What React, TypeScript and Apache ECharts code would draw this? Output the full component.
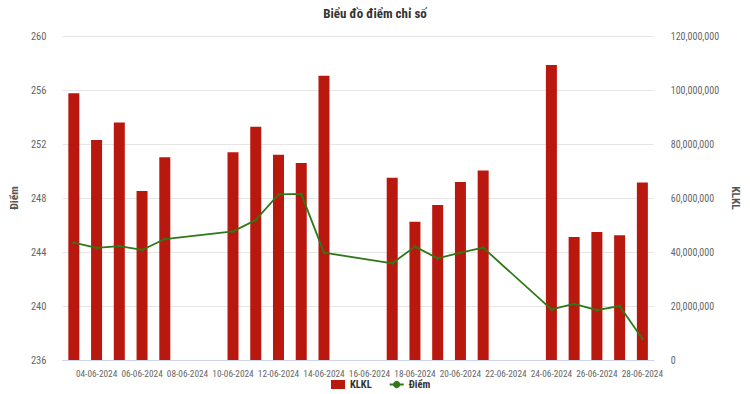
import React, { useEffect, useRef } from "react";
import * as echarts from "echarts";

const dates = [
  "03-06-2024", "04-06-2024", "05-06-2024", "06-06-2024", "07-06-2024", "08-06-2024", "09-06-2024",
  "10-06-2024", "11-06-2024", "12-06-2024", "13-06-2024", "14-06-2024", "15-06-2024", "16-06-2024",
  "17-06-2024", "18-06-2024", "19-06-2024", "20-06-2024", "21-06-2024", "22-06-2024", "23-06-2024",
  "24-06-2024", "25-06-2024", "26-06-2024", "27-06-2024", "28-06-2024",
];

const klkl = [
  98800000, 81500000, 88000000, 62600000, 75100000, null, null,
  76900000, 86400000, 76000000, 73000000, 105300000, null, null,
  67500000, 51200000, 57400000, 65900000, 70200000, null, null,
  109300000, 45600000, 47400000, 46200000, 65700000,
];

const diem = [
  244.69, 244.3, 244.44, 244.15, 244.96, null, null,
  245.53, 246.37, 248.27, 248.3, 243.95, null, null,
  243.16, 244.4, 243.53, 243.95, 244.32, null, null,
  239.75, 240.15, 239.7, 240.0, 237.58,
];

const FONT = '"Roboto Condensed", "DejaVu Sans Condensed", sans-serif';

export default function App() {
  const ref = useRef<HTMLDivElement>(null);
  useEffect(() => {
    document.body.style.margin = "0";
    const chart = echarts.init(ref.current!, null, { renderer: "svg" });
    const evenDay = (i: number) => {
      const d = parseInt(dates[i].slice(0, 2), 10);
      return d % 2 === 0;
    };
    chart.setOption({
      animation: false,
      textStyle: { fontFamily: FONT },
      title: {
        text: "Biểu đồ điểm chỉ số",
        left: "center",
        top: 2,
        padding: [5, 0, 5, 10],
        textStyle: { fontFamily: FONT, fontSize: 13, fontWeight: "bold", color: "#333333" },
      },
      legend: {
        left: 331,
        top: 379,
        itemWidth: 14,
        itemHeight: 9,
        itemGap: 17,
        padding: 0,
        textStyle: { fontFamily: FONT, fontSize: 10.5, color: "#333333", fontWeight: "bold" },
        data: [
          { name: "KLKL", icon: "rect" },
          { name: "Điểm" },
        ],
      },
      grid: { left: 60, right: 90, top: 36, bottom: 34 },
      xAxis: {
        type: "category",
        data: dates,
        boundaryGap: true,
        axisLine: { lineStyle: { color: "#ccd6eb" } },
        axisTick: {
          alignWithLabel: true,
          interval: (i: number) => evenDay(i),
          lineStyle: { color: "#ccd6eb" },
          length: 6,
        },
        axisLabel: {
          interval: (i: number) => evenDay(i),
          hideOverlap: false,
          fontFamily: FONT,
          fontSize: 9.3,
          color: "#666666",
          margin: 9,
        },
      },
      yAxis: [
        {
          type: "value",
          min: 236,
          max: 260,
          interval: 4,
          name: "Điểm",
          nameLocation: "middle",
          nameGap: 34,
          nameRotate: 90,
          nameTextStyle: { fontFamily: FONT, fontSize: 11.5, fontWeight: "bold", color: "#555555" },
          axisLabel: { fontFamily: FONT, fontSize: 10.5, color: "#666666", margin: 16 },
          splitLine: { lineStyle: { color: "#e6e6e6" } },
          axisLine: { show: false },
          axisTick: { show: false },
        },
        {
          type: "value",
          min: 0,
          max: 120000000,
          interval: 20000000,
          name: "KLKL",
          nameLocation: "middle",
          nameGap: 72,
          nameRotate: -90,
          nameTextStyle: { fontFamily: FONT, fontSize: 11.5, fontWeight: "bold", color: "#555555" },
          axisLabel: {
            fontFamily: FONT,
            fontSize: 10,
            color: "#666666",
            margin: 17,
            formatter: (v: number) => v.toLocaleString("en-US"),
          },
          splitLine: { show: false },
          axisLine: { show: false },
          axisTick: { show: false },
        },
      ],
      series: [
        {
          name: "KLKL",
          type: "bar",
          yAxisIndex: 1,
          data: klkl,
          barWidth: 11,
          itemStyle: { color: "#b9180f" },
        },
        {
          name: "Điểm",
          type: "line",
          yAxisIndex: 0,
          data: diem,
          connectNulls: true,
          symbol: "circle",
          symbolSize: 3,
          lineStyle: { color: "#2f7818", width: 1.8 },
          itemStyle: { color: "#2f7818" },
        },
      ],
    });
    return () => chart.dispose();
  }, []);
  return <div ref={ref} style={{ width: 750, height: 394 }} />;
}
